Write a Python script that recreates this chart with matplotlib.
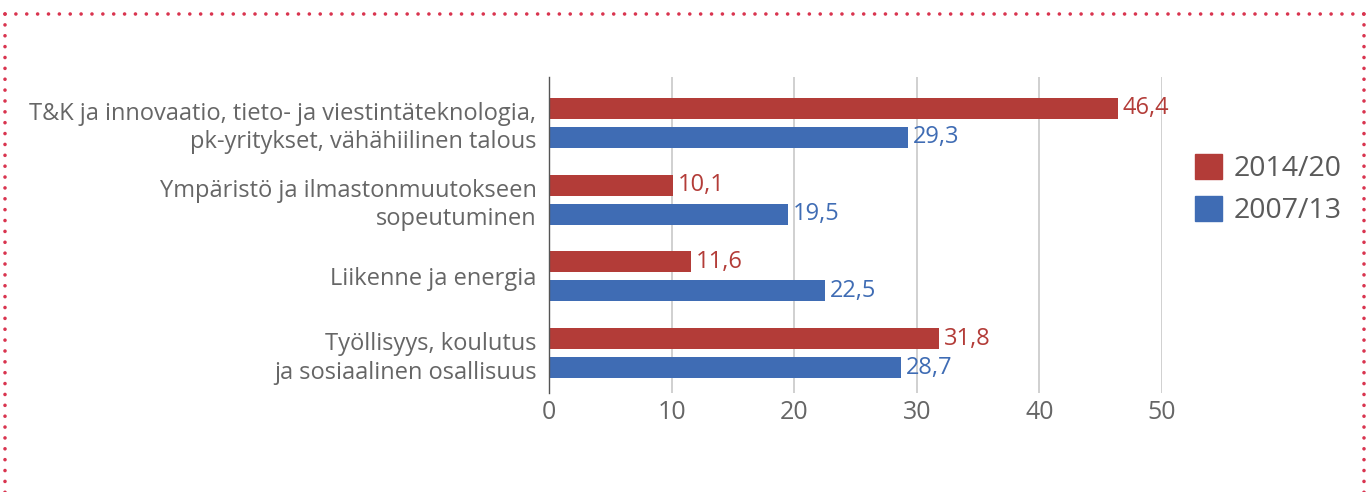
import matplotlib
matplotlib.use("Agg")
import matplotlib.pyplot as plt
from matplotlib.lines import Line2D
from matplotlib.patches import Patch
import numpy as np

categories = [
    "T&K ja innovaatio, tieto- ja viestintäteknologia,\npk-yritykset, vähähiilinen talous",
    "Ympäristö ja ilmastonmuutokseen\nsopeutuminen",
    "Liikenne ja energia",
    "Työllisyys, koulutus\nja sosiaalinen osallisuus",
]
series_names = ["2014/20", "2007/13"]
values_2014 = [46.4, 10.1, 11.6, 31.8]
values_2007 = [29.3, 19.5, 22.5, 28.7]
x_ticks = [0, 10, 20, 30, 40, 50]

RED = "#b33c38"
BLUE = "#3f6cb4"
GREY = "#666666"
BORDER = "#d9344f"

plt.rcParams["font.family"] = ["Open Sans", "DejaVu Sans"]

fig = plt.figure(figsize=(13.71, 4.92), dpi=100)
ax = fig.add_axes([0.4004, 0.2012, 0.4472, 0.6423])

y = np.arange(len(categories))
h = 0.273
off = 0.189
bars_a = ax.barh(y - off, values_2014, height=h, color=RED, zorder=3)
bars_b = ax.barh(y + off, values_2007, height=h, color=BLUE, zorder=3)

def fmt(v):
    return f"{v:.1f}".replace(".", ",")

for bars, vals, col in ((bars_a, values_2014, RED), (bars_b, values_2007, BLUE)):
    for b, v in zip(bars, vals):
        ax.text(v + 0.4, b.get_y() + b.get_height() / 2, fmt(v), color=col,
                fontsize=17, va="center", ha="left", zorder=4)

ax.set_xlim(0, 50)
ax.set_ylim(3.518, -0.596)
ax.set_xticks(x_ticks)
ax.set_xticklabels([str(t) for t in x_ticks], fontsize=18, color=GREY)
ax.set_yticks(y)
ax.set_yticklabels(categories, fontsize=17, color=GREY, linespacing=1.25)
ax.tick_params(axis="y", length=0, pad=9)
ax.tick_params(axis="x", length=0, pad=5)
ax.grid(axis="x", color="#c8c8c8", linewidth=1.2, zorder=0)
for s in ("top", "right", "bottom"):
    ax.spines[s].set_visible(False)
ax.spines["left"].set_color("#555555")
ax.spines["left"].set_linewidth(1.0)
ax.spines["left"].set_zorder(5)

handles = [Patch(color=RED), Patch(color=BLUE)]
leg = fig.legend(handles, series_names, loc="upper left",
                 bbox_to_anchor=(0.8635, 0.71), frameon=False,
                 fontsize=20.5, handlelength=0.95, handleheight=0.95,
                 handletextpad=0.4, labelspacing=0.45, borderaxespad=0)
for t in leg.get_texts():
    t.set_color("#5a5a5a")
    t.set_fontweight("medium")

# dotted frame around the figure
dot_style = dict(color=BORDER, linewidth=2.6, linestyle=(0, (0.01, 3.0)),
                 dash_capstyle="round", transform=fig.transFigure)
top = 1 - 14 / 492
lx, rx = 5 / 1371, 1364 / 1371
fig.add_artist(Line2D([lx, rx], [top, top], **dot_style))
fig.add_artist(Line2D([lx, lx], [top, -0.05], **dot_style))
fig.add_artist(Line2D([rx, rx], [top, -0.05], **dot_style))

fig.savefig("out.png", dpi=100)
